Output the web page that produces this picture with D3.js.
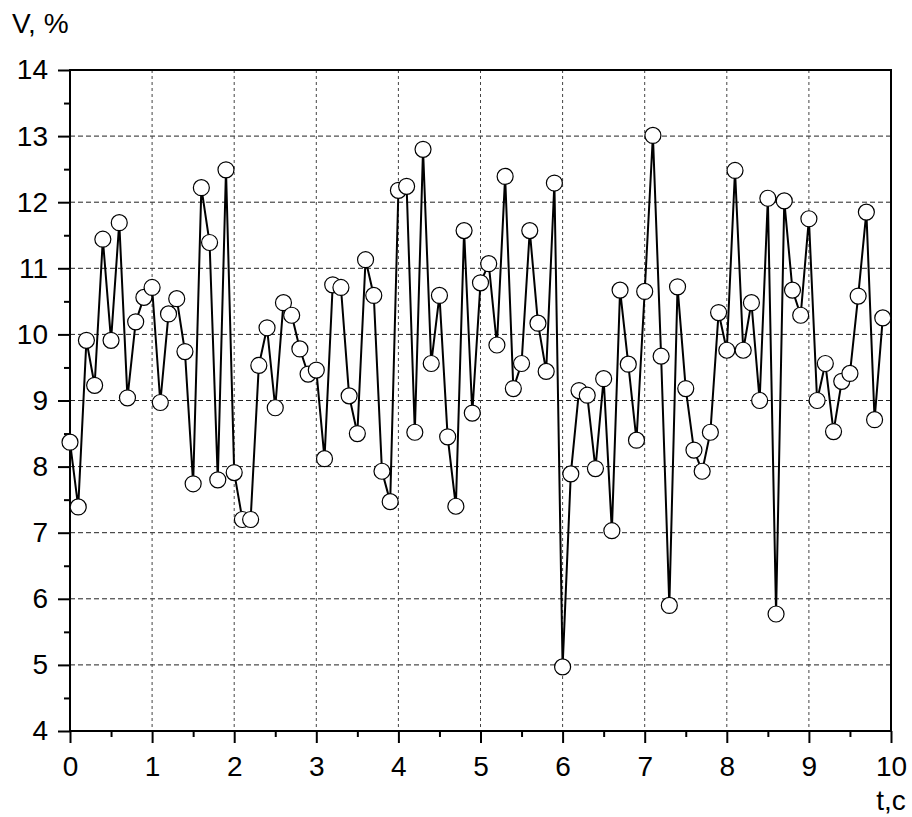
<!DOCTYPE html>
<meta charset="utf-8">
<script src="https://d3js.org/d3.v7.min.js"></script>
<style>
  body { margin: 0; background: #fff; }
  text { font-family: "Liberation Sans", Arial, sans-serif; }
</style>
<body>
<script>

// DATA (t step 0.1 s)

var times = d3.range(100).map(function (i) { return i / 10; });
var values = [
  8.37, 7.39, 9.91, 9.23, 11.44, 9.91, 11.69, 9.04, 10.19, 10.56,
  10.71, 8.97, 10.31, 10.54, 9.74, 7.74, 12.22, 11.39, 7.80, 12.49,
  7.91, 7.20, 7.20, 9.53, 10.10, 8.89, 10.48, 10.29, 9.78, 9.40,
  9.46, 8.12, 10.75, 10.71, 9.07, 8.50, 11.13, 10.59, 7.93, 7.47,
  12.18, 12.24, 8.52, 12.80, 9.56, 10.59, 8.45, 7.40, 11.57, 8.81,
  10.78, 11.07, 9.84, 12.39, 9.18, 9.56, 11.57, 10.17, 9.44, 12.29,
  4.97, 7.89, 9.15, 9.08, 7.97, 9.33, 7.03, 10.67, 9.55, 8.40,
  10.65, 13.01, 9.67, 5.90, 10.72, 9.18, 8.25, 7.93, 8.52, 10.33,
  9.76, 12.48, 9.76, 10.48, 9.00, 12.06, 5.77, 12.02, 10.67, 10.29,
  11.75, 9.00, 9.56, 8.53, 9.29, 9.41, 10.58, 11.85, 8.71, 10.25
];
var xTicks = [0, 1, 2, 3, 4, 5, 6, 7, 8, 9, 10];
var yTicks = [4, 5, 6, 7, 8, 9, 10, 11, 12, 13, 14];
var xLabel = "t,c";
var yLabel = "V, %";

var data = times.map(function (t, i) { return [t, values[i]]; });

var width = 912;
var height = 817;
var margin = { top: 70, left: 70, right: 21, bottom: 86 };
var fontSize = "28px";

// SVG SETUP

var svg = d3.select("body")
  .append("svg")
  .attr("width", width)
  .attr("height", height);

var xScale = d3.scaleLinear()
  .domain([0, 10])
  .range([margin.left, width - margin.right]);

var yScale = d3.scaleLinear()
  .domain([4, 14])
  .range([height - margin.bottom, margin.top]);

// GRID

svg.append("g")
  .selectAll("line")
  .data(yTicks.slice(1, -1))
  .enter().append("line")
  .attr("x1", margin.left).attr("x2", width - margin.right)
  .attr("y1", function (d) { return yScale(d); })
  .attr("y2", function (d) { return yScale(d); })
  .attr("stroke", "#222")
  .attr("stroke-width", 1)
  .attr("stroke-dasharray", "5,3");

svg.append("g")
  .selectAll("line")
  .data(xTicks.slice(1, -1))
  .enter().append("line")
  .attr("x1", function (d) { return xScale(d); })
  .attr("x2", function (d) { return xScale(d); })
  .attr("y1", margin.top).attr("y2", height - margin.bottom)
  .attr("stroke", "#444")
  .attr("stroke-width", 1)
  .attr("stroke-dasharray", "3,3");

// AXES

var minorX = d3.range(0.5, 10, 1);
var minorY = d3.range(4.5, 14, 1);

function styleAxis(g) {
  g.select(".domain").remove();
  g.selectAll(".tick line").attr("stroke", "#000").attr("stroke-width", 2);
  g.selectAll(".tick text")
    .attr("fill", "#000")
    .style("font-size", fontSize);
}

svg.append("g")
  .attr("transform", "translate(0," + (height - margin.bottom) + ")")
  .call(d3.axisBottom(xScale).tickValues(xTicks).tickSize(12).tickPadding(13).tickFormat(d3.format("d")))
  .call(styleAxis);

svg.append("g")
  .attr("transform", "translate(0," + (height - margin.bottom) + ")")
  .call(d3.axisBottom(xScale).tickValues(minorX).tickSize(6).tickFormat(""))
  .call(styleAxis);

svg.append("g")
  .attr("transform", "translate(" + margin.left + ",0)")
  .call(d3.axisLeft(yScale).tickValues(yTicks).tickSize(12).tickPadding(10).tickFormat(d3.format("d")))
  .call(styleAxis);

svg.append("g")
  .attr("transform", "translate(" + margin.left + ",0)")
  .call(d3.axisLeft(yScale).tickValues(minorY).tickSize(6).tickFormat(""))
  .call(styleAxis);

// FRAME

svg.append("rect")
  .attr("x", margin.left)
  .attr("y", margin.top)
  .attr("width", width - margin.left - margin.right)
  .attr("height", height - margin.top - margin.bottom)
  .attr("fill", "none")
  .attr("stroke", "#000")
  .attr("stroke-width", 2);

// LINE + MARKERS

var line = d3.line()
  .x(function (d) { return xScale(d[0]); })
  .y(function (d) { return yScale(d[1]); });

svg.append("path")
  .datum(data)
  .attr("d", line)
  .attr("fill", "none")
  .attr("stroke", "#000")
  .attr("stroke-width", 2);

svg.append("g")
  .selectAll("circle")
  .data(data)
  .enter().append("circle")
  .attr("cx", function (d) { return xScale(d[0]); })
  .attr("cy", function (d) { return yScale(d[1]); })
  .attr("r", 8)
  .attr("fill", "#fff")
  .attr("stroke", "#000")
  .attr("stroke-width", 1.2);

// AXIS LABELS

svg.append("text")
  .attr("x", 12)
  .attr("y", 33)
  .style("font-size", fontSize)
  .text(yLabel);

svg.append("text")
  .attr("x", width - margin.right)
  .attr("y", 810)
  .attr("text-anchor", "middle")
  .style("font-size", fontSize)
  .text(xLabel);

</script>
</body>
